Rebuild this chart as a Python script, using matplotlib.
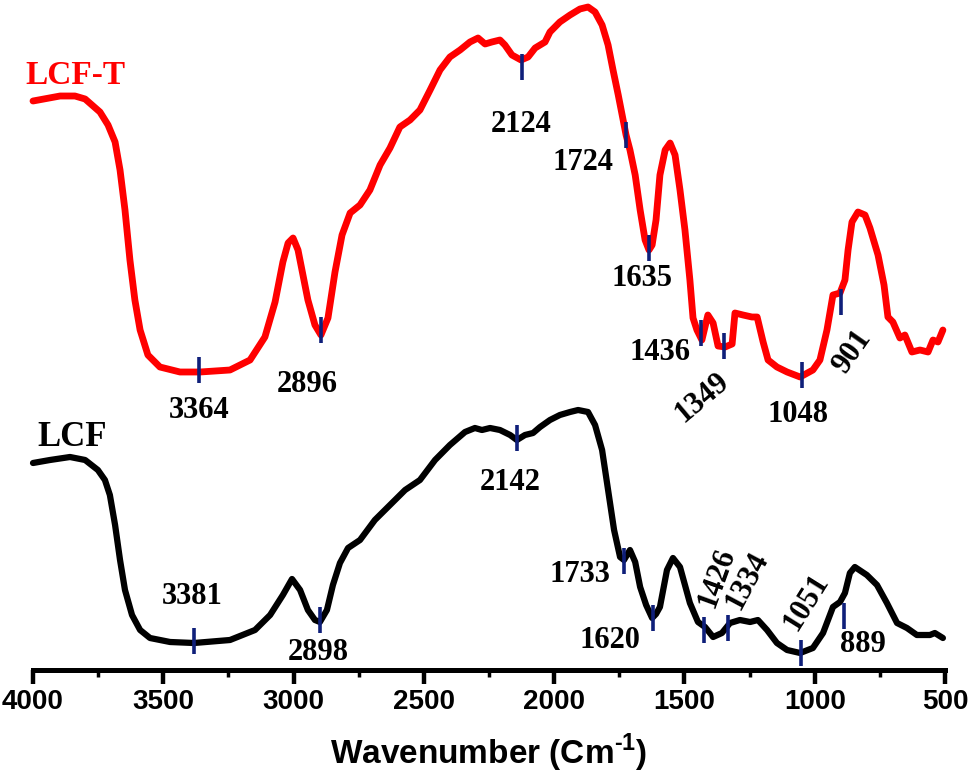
import matplotlib.pyplot as plt

# LCF-T spectrum (wavenumber, relative transmittance)
lcft_wn = [4000, 3896, 3839, 3800, 3743, 3712, 3685, 3666, 3647, 3628, 3609, 3589, 3559, 3513,
           3436, 3359, 3244, 3167, 3110, 3071, 3041, 3021, 3002, 2983, 2964, 2945, 2918, 2895,
           2868, 2841, 2814, 2783, 2745, 2707, 2668, 2630, 2592, 2553, 2515, 2476, 2438, 2400,
           2361, 2323, 2292, 2265, 2239, 2208, 2189, 2162, 2127, 2100, 2073, 2035, 2016, 1978,
           1939, 1901, 1870, 1843, 1816, 1793, 1774, 1754, 1739, 1724, 1709, 1689, 1670, 1651,
           1636, 1624, 1609, 1594, 1574, 1555, 1536, 1517, 1498, 1479, 1467, 1452, 1433, 1410,
           1390, 1371, 1344, 1317, 1306, 1275, 1241, 1221, 1198, 1179, 1145, 1106, 1056, 1007,
           980, 953, 930, 903, 884, 872, 857, 834, 807, 788, 757, 734, 719, 700, 673, 654, 627,
           596, 565, 546, 527, 508]
lcft_t = [567, 572, 572, 569, 556, 543, 526, 498, 458, 408, 368, 338, 313, 301,
          296, 296, 298, 308, 331, 366, 406, 425, 430, 418, 393, 368, 343, 333,
          350, 396, 433, 455, 463, 478, 503, 520, 541, 548, 558, 578, 598, 611,
          618, 626, 630, 624, 626, 628, 623, 613, 608, 611, 620, 626, 636, 646,
          653, 659, 661, 656, 643, 623, 598, 573, 553, 533, 518, 493, 458, 428,
          418, 423, 448, 493, 518, 525, 513, 478, 438, 388, 350, 338, 328, 353,
          345, 322, 321, 324, 355, 353, 351, 351, 326, 308, 301, 296, 291, 298,
          308, 338, 373, 375, 388, 418, 446, 456, 453, 440, 413, 383, 351, 346, 330, 333, 316,
          318, 316, 328, 326, 338]

# LCF spectrum
lcf_wn = [4000, 3935, 3858, 3800, 3751, 3724, 3705, 3685, 3666, 3647, 3620, 3589, 3551, 3474,
          3382, 3244, 3148, 3090, 3041, 3006, 2975, 2945, 2918, 2899, 2872, 2849, 2822, 2791,
          2745, 2688, 2630, 2572, 2515, 2457, 2400, 2342, 2304, 2277, 2246, 2208, 2169, 2143,
          2112, 2081, 2054, 2016, 1978, 1939, 1908, 1870, 1843, 1816, 1793, 1770, 1747, 1732,
          1709, 1689, 1670, 1647, 1624, 1609, 1594, 1567, 1544, 1517, 1479, 1448, 1421, 1390,
          1356, 1325, 1287, 1248, 1218, 1183, 1145, 1106, 1056, 1007, 968, 930, 903, 884, 865,
          846, 800, 761, 723, 684, 646, 608, 558, 539, 508]
lcf_t = [205, 208, 211, 208, 198, 188, 173, 143, 108, 78, 53, 38, 30, 26,
         25, 28, 38, 53, 73, 89, 78, 58, 48, 46, 58, 83, 105, 120,
         128, 148, 163, 178, 188, 208, 223, 236, 240, 238, 240, 238, 233, 228,
         233, 235, 241, 248, 253, 256, 258, 256, 243, 218, 178, 138, 111, 108,
         118, 106, 81, 63, 50, 54, 61, 98, 110, 101, 65, 46, 41, 31,
         35, 45, 48, 46, 48, 38, 25, 18, 15, 20, 35, 61, 66, 75, 95,
         101, 93, 83, 65, 45, 40, 33, 33, 35, 30]

# peak marks: wavenumber, curve level, label position, rotation
lcft_peaks = [3364, 2896, 2124, 1724, 1635, 1436, 1349, 1048, 901]
lcft_peak_t = [298, 338, 601, 533, 420, 335, 322, 293, 366]
lcft_lab_x = [3363, 2948, 2127, 1889, 1663, 1594, 1433, 1064, 857]
lcft_lab_y = [257, 283, 543, 505, 390, 315, 270, 254, 316]
lcft_lab_rot = [0, 0, 0, 0, 0, 0, 40, 0, 55]

lcf_peaks = [3381, 2898, 2142, 1733, 1620, 1426, 1334, 1051, 889]
lcf_peak_t = [27, 48, 230, 107, 50, 38, 40, 15, 52]
lcf_lab_x = [3390, 2906, 2169, 1901, 1786, 1375, 1260, 1033, 815]
lcf_lab_y = [71, 16, 186, 93, 27, 90, 87, 66, 24]
lcf_lab_rot = [0, 0, 0, 0, 0, 70, 62, 58, 0]

serif = ['Liberation Serif', 'DejaVu Serif']
sans = ['Liberation Sans', 'DejaVu Sans']
mark_col = '#0f1f7a'

plt.rcParams['mathtext.fontset'] = 'custom'
plt.rcParams['mathtext.rm'] = 'Liberation Sans:bold'
plt.rcParams['mathtext.bf'] = 'Liberation Sans:bold'

fig = plt.figure(figsize=(9.69, 7.83), dpi=100)
ax = fig.add_axes([33 / 969, (783 - 670) / 783, (945 - 33) / 969, 670 / 783])

ax.plot(lcft_wn, lcft_t, color='#ff0000', lw=4.9, solid_joinstyle='round',
        solid_capstyle='round', clip_on=False)
ax.plot(lcf_wn, lcf_t, color='black', lw=4.5, solid_joinstyle='round',
        solid_capstyle='round', clip_on=False)

for wn, t, lx, ly, rot in zip(lcft_peaks, lcft_peak_t, lcft_lab_x, lcft_lab_y, lcft_lab_rot):
    ax.vlines(wn, t - 13, t + 13, color=mark_col, lw=2.6, zorder=3)
    ax.text(lx, ly, str(wn), ha='center', va='center', rotation=rot,
            fontsize=22, fontweight='bold', family=serif)
for wn, t, lx, ly, rot in zip(lcf_peaks, lcf_peak_t, lcf_lab_x, lcf_lab_y, lcf_lab_rot):
    ax.vlines(wn, t - 13, t + 13, color=mark_col, lw=2.6, zorder=3, clip_on=False)
    ax.text(lx, ly, str(wn), ha='center', va='center', rotation=rot,
            fontsize=22, fontweight='bold', family=serif)

ax.text(3839, 593, 'LCF-T', color='#ff0000', ha='center', va='center',
        fontsize=24, fontweight='bold', family=serif)
ax.text(3850, 231, 'LCF', color='black', ha='center', va='center',
        fontsize=25, fontweight='bold', family=serif)

ax.set_xlim(4000, 500)
ax.set_ylim(-2, 668)
for s in ['top', 'left', 'right']:
    ax.spines[s].set_visible(False)
ax.spines['bottom'].set_linewidth(3.6)
ax.set_yticks([])
ax.set_xticks([4000, 3500, 3000, 2500, 2000, 1500, 1000, 500])
ax.set_xticks(range(3750, 500, -500), minor=True)
ax.tick_params(axis='x', which='major', direction='out', length=10, width=3.2, pad=4)
ax.tick_params(axis='x', which='minor', direction='out', length=5, width=2.5)
for lab in ax.get_xticklabels():
    lab.set_fontfamily(sans)
    lab.set_fontweight('bold')
    lab.set_fontsize(20)
ax.set_xlabel('Wavenumber (Cm$^{\\text{-1}}$)', fontsize=24, fontweight='bold',
              family=sans, labelpad=12)

fig.savefig('out.png', dpi=100)
